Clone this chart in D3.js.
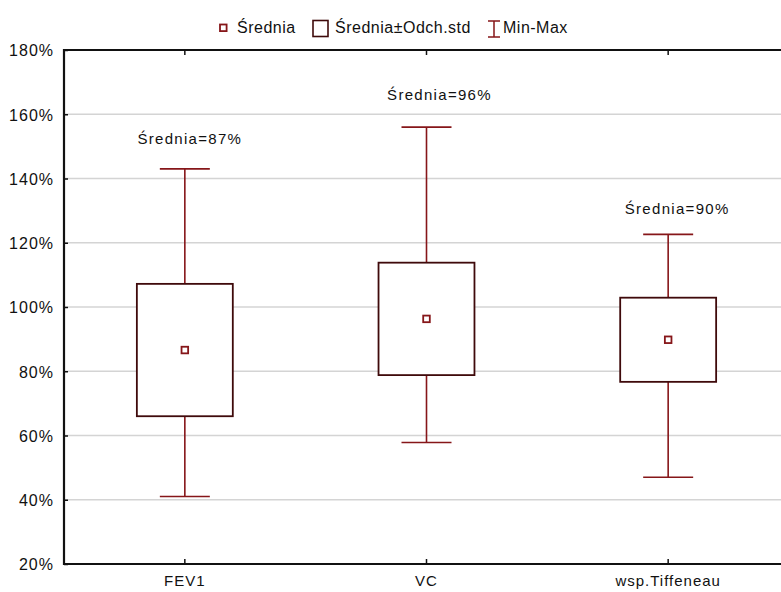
<!DOCTYPE html>
<html>
<head>
<meta charset="utf-8">
<script src="https://cdn.jsdelivr.net/npm/d3@7"></script>
<style>
  html, body { margin: 0; padding: 0; background: #fff; }
  svg { display: block; font-family: "Liberation Sans", Arial, sans-serif; }
</style>
</head>
<body>
<svg id="chart" width="781" height="592"></svg>
<script>
// Spirometry summary: mean, mean ± SD and min–max per measure (% of predicted)
const categories = ["FEV1", "VC", "wsp.Tiffeneau"];
const means = [86.6, 96.3, 89.8];
const sds = [20.6, 17.5, 13.1];
const mins = [41.0, 57.8, 47.0];
const maxs = [143.0, 156.0, 122.6];
const yTicks = [20, 40, 60, 80, 100, 120, 140, 160, 180];
const legendLabels = ["Średnia", "Średnia±Odch.std", "Min-Max"];

// where each "Średnia=" note sits (value level and horizontal nudge in px)
const noteLevel = [150.7, 164.4, 129.0];
const noteShift = [5, 13, 9];

const W = 781, H = 592;
const plotLeft = 64, plotTop = 50, plotBottom = 564, plotRight = 789;

const whiskerColor = "#861619";
const boxColor = "#3f0a0b";

const svg = d3.select("#chart");

const x = d3.scaleBand().domain(categories).range([plotLeft, plotRight]);
const y = d3.scaleLinear().domain([20, 180]).range([plotBottom, plotTop]);

// horizontal grid
svg.append("g")
  .selectAll("line")
  .data(yTicks.filter(t => t > 20 && t < 180))
  .join("line")
  .attr("x1", plotLeft).attr("x2", W)
  .attr("y1", d => y(d)).attr("y2", d => y(d))
  .attr("stroke", "#d4d4d4").attr("stroke-width", 1.3);

// axes
const yAxis = d3.axisLeft(y).tickValues(yTicks).tickFormat(d => d + "%")
  .tickSizeInner(-4).tickSizeOuter(0).tickPadding(10);
const gy = svg.append("g").attr("transform", `translate(${plotLeft},0)`).call(yAxis);
gy.select(".domain").remove();
gy.selectAll(".tick line").attr("stroke", "#111").attr("stroke-width", 1.5);
gy.selectAll("text").attr("font-size", 16).attr("fill", "#111")
  .attr("letter-spacing", 1).attr("dy", "0.36em");

const xAxis = d3.axisBottom(x).tickSizeInner(-5).tickSizeOuter(0).tickPadding(11);
const gx = svg.append("g").attr("transform", `translate(0,${plotBottom})`).call(xAxis);
gx.select(".domain").remove();
gx.selectAll(".tick line").attr("stroke", "#111").attr("stroke-width", 1.5);
gx.selectAll("text").attr("font-size", 15).attr("fill", "#111").attr("letter-spacing", 1);

const xTop = d3.axisTop(x).tickSizeInner(-5).tickSizeOuter(0).tickFormat("");
const gt = svg.append("g").attr("transform", `translate(0,${plotTop})`).call(xTop);
gt.select(".domain").remove();
gt.selectAll(".tick line").attr("stroke", "#111").attr("stroke-width", 1.5);

// frame: left, top, bottom
svg.append("path")
  .attr("d", `M${W},${plotTop}H${plotLeft}V${plotBottom}H${W}`)
  .attr("fill", "none").attr("stroke", "#111").attr("stroke-width", 2.2);

// marks
const boxW = x.bandwidth() * 0.397;
const capW = 50;
const g = svg.append("g");
categories.forEach((c, i) => {
  const cx = x(c) + x.bandwidth() / 2;
  const hi = means[i] + sds[i], lo = means[i] - sds[i];
  // whiskers
  g.append("line").attr("x1", cx).attr("x2", cx).attr("y1", y(maxs[i])).attr("y2", y(hi))
    .attr("stroke", whiskerColor).attr("stroke-width", 1.6);
  g.append("line").attr("x1", cx).attr("x2", cx).attr("y1", y(lo)).attr("y2", y(mins[i]))
    .attr("stroke", whiskerColor).attr("stroke-width", 1.6);
  g.append("line").attr("x1", cx - capW / 2).attr("x2", cx + capW / 2)
    .attr("y1", y(maxs[i])).attr("y2", y(maxs[i]))
    .attr("stroke", whiskerColor).attr("stroke-width", 1.6);
  g.append("line").attr("x1", cx - capW / 2).attr("x2", cx + capW / 2)
    .attr("y1", y(mins[i])).attr("y2", y(mins[i]))
    .attr("stroke", whiskerColor).attr("stroke-width", 1.6);
  // mean ± SD box
  g.append("rect").attr("x", cx - boxW / 2).attr("width", boxW)
    .attr("y", y(hi)).attr("height", y(lo) - y(hi))
    .attr("fill", "#fff").attr("stroke", boxColor).attr("stroke-width", 1.8);
  // mean marker
  g.append("rect").attr("x", cx - 3.3).attr("y", y(means[i]) - 3.3)
    .attr("width", 6.6).attr("height", 6.6)
    .attr("fill", "#fff").attr("stroke", whiskerColor).attr("stroke-width", 1.8);
  // note
  svg.append("text")
    .attr("x", cx + noteShift[i]).attr("y", y(noteLevel[i]))
    .attr("text-anchor", "middle").attr("font-size", 15).attr("fill", "#111")
    .attr("letter-spacing", 1.3)
    .text("Średnia=" + Math.round(means[i]) + "%");
});

// legend
const lg = svg.append("g");
const ly = 33;
let lx = 220;
// mean marker icon
lg.append("rect").attr("x", lx).attr("y", 24.5).attr("width", 6.6).attr("height", 6.6)
  .attr("fill", "#fff").attr("stroke", whiskerColor).attr("stroke-width", 1.8);
lg.append("text").attr("x", lx + 17).attr("y", ly).attr("font-size", 16)
  .attr("letter-spacing", 0.5).attr("fill", "#111").text(legendLabels[0]);
lx = 313;
lg.append("rect").attr("x", lx).attr("y", 20.5).attr("width", 15).attr("height", 16)
  .attr("fill", "#fff").attr("stroke", boxColor).attr("stroke-width", 1.6);
lg.append("text").attr("x", lx + 22).attr("y", ly).attr("font-size", 16)
  .attr("letter-spacing", 0.5).attr("fill", "#111").text(legendLabels[1]);
lx = 494;
lg.append("path").attr("d", `M${lx - 6},21H${lx + 6}M${lx},21V37M${lx - 6},37H${lx + 6}`)
  .attr("fill", "none").attr("stroke", whiskerColor).attr("stroke-width", 1.5);
lg.append("text").attr("x", lx + 9).attr("y", ly).attr("font-size", 16)
  .attr("letter-spacing", 0.5).attr("fill", "#111").text(legendLabels[2]);
</script>
</body>
</html>
